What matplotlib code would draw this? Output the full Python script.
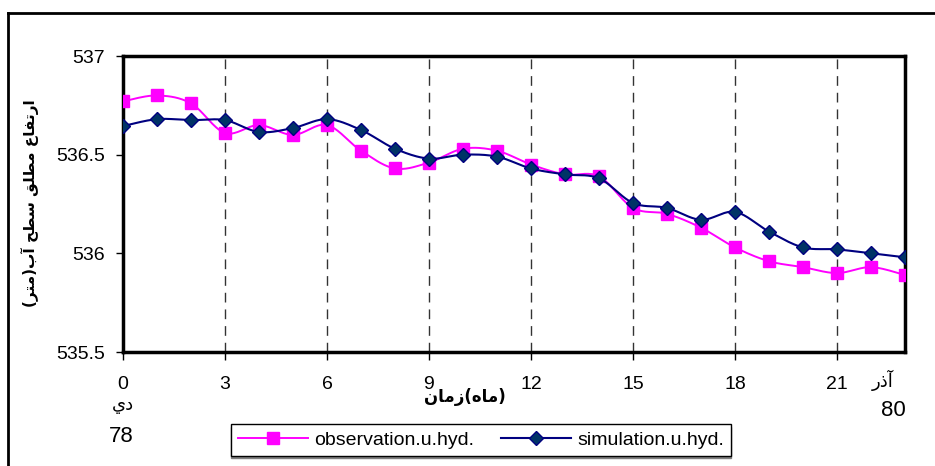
import numpy as np
import matplotlib
matplotlib.use("Agg")
import matplotlib.pyplot as plt
from matplotlib.lines import Line2D

plt.rcParams['font.family'] = ['Liberation Sans', 'DejaVu Sans']

# monthly values (month 0 = Dey 78 ... month 23 = Azar 80)
months = list(range(24))
observation = [536.77, 536.80, 536.76, 536.61, 536.65, 536.60, 536.65, 536.52,
               536.43, 536.46, 536.53, 536.52, 536.45, 536.40, 536.39, 536.23,
               536.20, 536.13, 536.03, 535.96, 535.93, 535.90, 535.93, 535.89]
simulation = [536.645, 536.68, 536.675, 536.675, 536.615, 536.635, 536.68, 536.625,
              536.53, 536.48, 536.50, 536.49, 536.43, 536.40, 536.38, 536.255,
              536.23, 536.17, 536.21, 536.11, 536.03, 536.02, 536.00, 535.98]
xticks = [0, 3, 6, 9, 12, 15, 18, 21]
yticks = [535.5, 536, 536.5, 537]
ytick_labels = ["535.5", "536", "536.5", "537"]

# arabic text, already shaped (presentation forms) in visual order
ylabel_txt = "(\uFEAE\uFE98\uFEE3)\uFE8F\uFE81 \uFEA2\uFEC4\uFEB3 \uFED6\uFEE0\uFEC4\uFEE3 \uFEC9\uFE8E\uFED4\uFE97\uFEAD\uFE8D"
xlabel_txt = "\uFEE5\uFE8E\uFEE3\uFEAF(\uFEE9\uFE8E\uFEE3)"
dey_txt = "\uFEF1\uFEA9"
azar_txt = "\uFEAD\uFEAB\uFE81"


def smooth(x, y, n=20):
    # excel-like smoothed line (catmull-rom as cubic bezier)
    x = np.asarray(x, float)
    y = np.asarray(y, float)
    px = np.concatenate([[x[0]], x, [x[-1]]])
    py = np.concatenate([[y[0]], y, [y[-1]]])
    t = np.linspace(0, 1, n)[:, None]
    xs, ys = [], []
    for i in range(1, len(px) - 2):
        p0 = np.array([px[i], py[i]])
        p3 = np.array([px[i + 1], py[i + 1]])
        c1 = p0 + (p3 - np.array([px[i - 1], py[i - 1]])) / 6
        c2 = p3 - (np.array([px[i + 2], py[i + 2]]) - p0) / 6
        b = ((1 - t) ** 3) * p0 + 3 * ((1 - t) ** 2) * t * c1 + 3 * (1 - t) * t ** 2 * c2 + t ** 3 * p3
        xs.append(b[:, 0])
        ys.append(b[:, 1])
    return np.concatenate(xs), np.concatenate(ys)


fig = plt.figure(figsize=(9.35, 4.66), dpi=100)
ax = fig.add_axes([123 / 935, 1 - 352 / 466, (905 - 123) / 935, (352 - 56) / 466])

pink = "#FF00FF"
navy = "#000080"

sx, sy = smooth(months, observation)
ax.plot(sx, sy, color=pink, lw=1.4, zorder=3)
ax.plot(months, observation, ls="none", marker="s", ms=8.5, color=pink, zorder=4)
sx, sy = smooth(months, simulation)
ax.plot(sx, sy, color=navy, lw=1.5, zorder=5)
ax.plot(months, simulation, ls="none", marker="D", ms=7, mfc="#003366", mec=navy, zorder=6)

ax.set_xlim(0, 23)
ax.set_ylim(535.5, 537)
ax.set_xticks(xticks)
ax.set_yticks(yticks)
ax.set_yticklabels(ytick_labels)
ax.tick_params(axis="both", direction="out", labelsize=14, color="black")
ax.tick_params(axis="x", length=6, width=1, pad=11)
ax.tick_params(axis="y", length=5, width=1, pad=8)
for x in xticks[1:]:
    ax.axvline(x, color="#333333", lw=1, ls=(0, (7, 5)), zorder=1)
for s in ax.spines.values():
    s.set_linewidth(2.5)

# outer chart border
fig.add_artist(Line2D([8 / 935, 8 / 935], [0, 1 - 13 / 466], color="black", lw=2))
fig.add_artist(Line2D([8 / 935, 1], [1 - 13 / 466, 1 - 13 / 466], color="black", lw=2))

fig.text(30 / 935, 1 - 203 / 466, ylabel_txt, rotation=90, ha="center", va="center",
         fontsize=11, fontweight="bold", family=["DejaVu Sans"])
fig.text(465 / 935, 1 - 397 / 466, xlabel_txt, ha="center", va="center",
         fontsize=12, fontweight="bold", family=["DejaVu Sans"])
fig.text(123 / 935, 1 - 405 / 466, dey_txt, ha="center", va="center", fontsize=13,
         family=["DejaVu Sans"])
fig.text(121 / 935, 1 - 437 / 466, "78", ha="center", va="center", fontsize=16)
fig.text(883 / 935, 1 - 380 / 466, azar_txt, ha="center", va="center", fontsize=13,
         family=["DejaVu Sans"])
fig.text(893 / 935, 1 - 411 / 466, "80", ha="center", va="center", fontsize=16)

h1 = Line2D([], [], color=pink, lw=1.4, marker="s", ms=8.5)
h2 = Line2D([], [], color=navy, lw=1.5, marker="D", ms=7, mfc="#003366", mec=navy)
leg = fig.legend([h1, h2], ["observation.u.hyd.", "simulation.u.hyd."], ncol=2,
                 loc="center", bbox_to_anchor=(481 / 935, 1 - 440 / 466), fontsize=14,
                 frameon=True, fancybox=False,
                 shadow={"color": "#808080", "alpha": 1, "ox": 0, "oy": -2},
                 handlelength=3.6, columnspacing=1.4, handletextpad=0.3, borderpad=0.35)
leg.get_frame().set_edgecolor("black")
leg.get_frame().set_linewidth(1)

fig.savefig("out.png", dpi=100)
